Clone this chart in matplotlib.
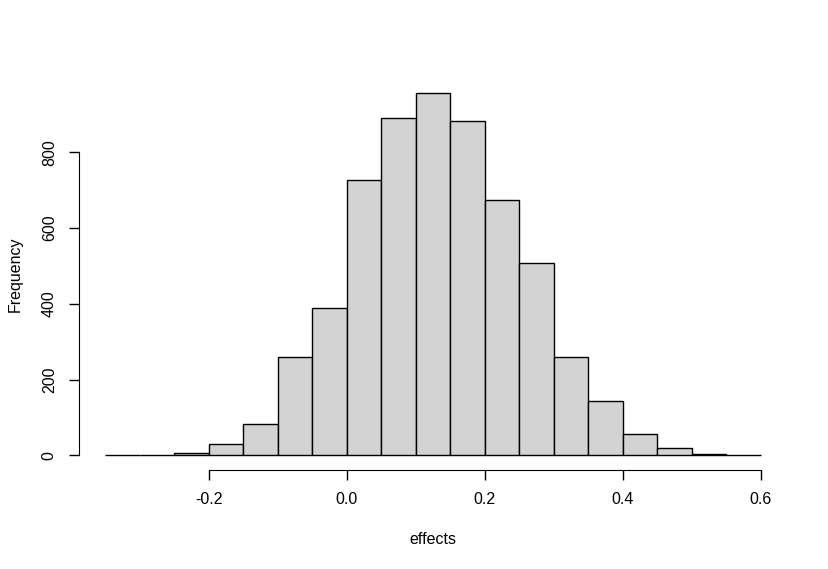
import numpy as np
import matplotlib.pyplot as plt

plt.rcParams['font.family'] = ['Liberation Sans', 'DejaVu Sans']

# histogram of effects, bin width 0.05
bin_edges = [-0.35, -0.30, -0.25, -0.20, -0.15, -0.10, -0.05, 0.00, 0.05, 0.10,
             0.15, 0.20, 0.25, 0.30, 0.35, 0.40, 0.45, 0.50, 0.55, 0.60]
counts = [1, 1, 7, 29, 84, 261, 390, 726, 892, 958,
          884, 673, 507, 261, 145, 58, 21, 4, 0]
x_ticks = [-0.2, 0.0, 0.2, 0.4, 0.6]
y_ticks = [0, 200, 400, 600, 800]

W, H = 829, 569
fig = plt.figure(figsize=(W / 100, H / 100), dpi=100)
# plot region in pixels: x 79..787, y 78..470
x0, x1, y0, y1 = 79, 787, 78, 470
ax = fig.add_axes([x0 / W, 1 - y1 / H, (x1 - x0) / W, (y1 - y0) / H])

edges = np.array(bin_edges)
ax.bar(edges[:-1], counts, width=np.diff(edges), align='edge',
       color='#d3d3d3', edgecolor='black', linewidth=1)

lo, hi = edges[0], edges[-1]
pad = 0.04 * (hi - lo)
ax.set_xlim(lo - pad, hi + pad)
ymax = max(counts)
ax.set_ylim(-0.04 * ymax, ymax * 1.04)

for s in ['top', 'right']:
    ax.spines[s].set_visible(False)
ax.spines['left'].set_bounds(0, 800)
ax.spines['bottom'].set_bounds(-0.2, 0.6)

ax.set_xticks(x_ticks)
ax.set_xticklabels(['-0.2', '0.0', '0.2', '0.4', '0.6'])
ax.set_yticks(y_ticks)
ax.set_yticklabels([str(v) for v in y_ticks], rotation=90, va='center')
ax.tick_params(length=7, width=1, labelsize=11.5, pad=9)

ax.set_xlabel('effects', fontsize=11.5, va='center')
ax.set_ylabel('Frequency', fontsize=11.5, va='center')
ax.xaxis.set_label_coords(0.5, (y1 - 540) / (y1 - y0))
ax.yaxis.set_label_coords((15 - x0) / (x1 - x0), 0.5)

fig.savefig('out.png', dpi=100)
